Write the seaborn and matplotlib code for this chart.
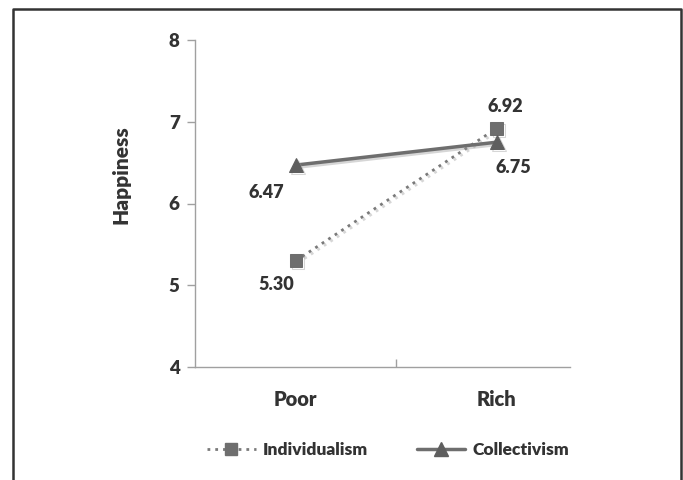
import matplotlib
matplotlib.use("Agg")
import matplotlib.pyplot as plt
import matplotlib.patheffects as pe
from matplotlib.lines import Line2D
import seaborn as sns
import pandas as pd

sns.set_theme(style="white")
plt.rcParams['font.family'] = ['Lato', 'DejaVu Sans']
W = "heavy"

categories = ["Poor", "Rich"]
individualism = [5.30, 6.92]
collectivism = [6.47, 6.75]
series_names = ["Individualism", "Collectivism"]
yticks = [4, 5, 6, 7, 8]

df = pd.DataFrame({
    "Wealth": categories * 2,
    "Happiness": individualism + collectivism,
    "Culture": [series_names[0]] * 2 + [series_names[1]] * 2,
})
df["x"] = df["Wealth"].map({c: i for i, c in enumerate(categories)})

fig = plt.figure(figsize=(6.83, 4.8), dpi=100)
ax = fig.add_axes([195/683, 1-367/480, (570-195)/683, (367-40)/480])

shadow = [pe.SimpleLineShadow(offset=(1.5, -1.5), shadow_color='0.6', alpha=0.4), pe.Normal()]

styles = {
    "Individualism": dict(color="#7a7a7a", ls=(0, (1, 1.8)), marker="s", lw=2.0, ms=9, mfc="#6e6e6e", mec="#6e6e6e"),
    "Collectivism": dict(color="#6e6e6e", ls="-", marker="^", lw=2.5, ms=10, mfc="#5e5e5e", mec="#5e5e5e"),
}
for name in series_names:
    sub = df[df["Culture"] == name]
    st = styles[name]
    sns.lineplot(data=sub, x="x", y="Happiness", ax=ax, color=st["color"], linestyle=st["ls"],
                 lw=st["lw"], marker=st["marker"], markersize=st["ms"],
                 markerfacecolor=st["mfc"], markeredgecolor=st["mec"], legend=False,
                 path_effects=shadow)

# value labels
lab_off = {
    ("Individualism", 0): (-14, -17, "center"),
    ("Individualism", 1): (6, 16, "center"),
    ("Collectivism", 0): (-21, -20, "center"),
    ("Collectivism", 1): (12, -18, "center"),
}
for name, vals in zip(series_names, [individualism, collectivism]):
    for i, v in enumerate(vals):
        dx, dy, ha = lab_off[(name, i)]
        ax.annotate(f"{v:.2f}", (i, v), xytext=(dx, dy), textcoords="offset points",
                    ha=ha, va="center", fontsize=13, fontweight=W, color="#333333")

ax.set_xlim(-0.502, 1.365)
ax.set_ylim(4, 8)
ax.set_yticks(yticks)
ax.set_yticklabels([str(t) for t in yticks], fontsize=13.5, fontweight=W, color="#333333")
ax.set_xticks([0.5])
ax.set_xticklabels([""])
for i, c in enumerate(categories):
    ax.text(i, -0.1, c, transform=ax.get_xaxis_transform(), ha="center", va="center",
            fontsize=14.5, fontweight=W, color="#333333")
ax.set_xlabel("")
ax.set_ylabel("Happiness", fontsize=15, fontweight=W, color="#333333")
ax.yaxis.set_label_coords((131 - 195) / 375, 1 - (175 - 40) / 327)

for s in ["top", "right"]:
    ax.spines[s].set_visible(False)
for s in ["left", "bottom"]:
    ax.spines[s].set_color("#a0a0a0")
    ax.spines[s].set_linewidth(1.0)
ax.tick_params(axis="y", which="both", left=True, length=6, width=1, color="#a0a0a0", pad=5)
ax.tick_params(axis="x", which="both", bottom=True, length=6, width=1, color="#a0a0a0", direction="in")
ax.grid(False)

# legend
handles = [
    Line2D([], [], color="#7a7a7a", ls=(0, (1, 1.8)), lw=2.0, marker="s", ms=9, mfc="#6e6e6e", mec="#6e6e6e"),
    Line2D([], [], color="#6e6e6e", ls="-", lw=2.5, marker="^", ms=10, mfc="#5e5e5e", mec="#5e5e5e"),
]
leg = fig.legend(handles, series_names, loc="center", bbox_to_anchor=(388/683, 1-450/480), ncol=2,
                 frameon=False, handlelength=2.8, columnspacing=2.8, handletextpad=0.4,
                 prop={"family": ["Lato", "DejaVu Sans"], "weight": W, "size": 12.5})
for t in leg.get_texts():
    t.set_color("#333333")

# border frame (top, left, right)
fig.add_artist(Line2D([13/683, 13/683, 681/683, 681/683], [0, 1-9/480, 1-9/480, 0],
                      transform=fig.transFigure, color="#333333", lw=1.8))

fig.savefig("out.png", dpi=100)
